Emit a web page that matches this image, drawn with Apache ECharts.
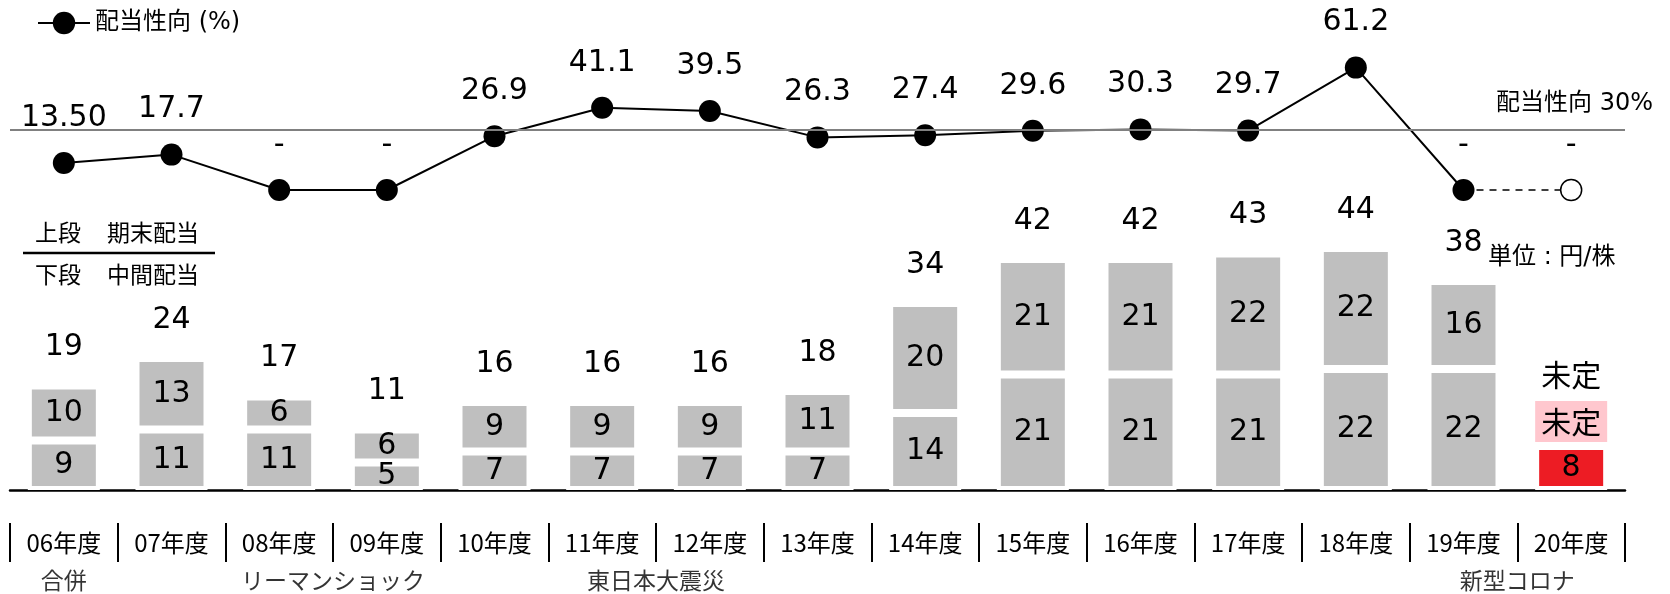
<!DOCTYPE html>
<html>
<head>
<meta charset="utf-8">
<script src="https://cdn.jsdelivr.net/npm/echarts@6/dist/echarts.min.js"></script>
<style>
html,body{margin:0;padding:0;background:#fff;}
#chart{width:1670px;height:594px;}
</style>
</head>
<body>
<div id="chart"></div>
<script>
// ---- data ----
const years = ['06年度','07年度','08年度','09年度','10年度','11年度','12年度','13年度','14年度','15年度','16年度','17年度','18年度','19年度','20年度'];
const interimDiv = [9, 11, 11, 5, 7, 7, 7, 7, 14, 21, 21, 21, 22, 22, 8];
const yearEndDiv = [10, 13, 6, 6, 9, 9, 9, 11, 20, 21, 21, 22, 22, 16, null];
const totalLabels = ['19','24','17','11','16','16','16','18','34','42','42','43','44','38','未定'];
const payoutRatio = [13.5, 17.7, 0, 0, 26.9, 41.1, 39.5, 26.3, 27.4, 29.6, 30.3, 29.7, 61.2, 0, 0];
const payoutLabels = ['13.50','17.7','-','-','26.9','41.1','39.5','26.3','27.4','29.6','30.3','29.7','61.2','-','-'];
const payoutTarget = 30;
const pendingText = '未定';
const eventPos = [0, 2.5, 5.5, 13.5];
const eventText = ['合併', 'リーマンショック', '東日本大震災', '新型コロナ'];

// ---- style ----
const NUM = "'DejaVu Sans','Noto Sans CJK JP',sans-serif";
const JP = "'Noto Sans CJK JP','DejaVu Sans',sans-serif";
const GRAY = '#BFBFBF', RED = '#ED1C24', PINK = '#FFC7CE';
const last = years.length - 1;

const chart = echarts.init(document.getElementById('chart'));

const interimData = interimDiv.map((v, i) => i === last
  ? { value: v, itemStyle: { color: RED } } : v);
const yearEndData = yearEndDiv.map(v => v === null
  ? { value: 0, itemStyle: { color: 'transparent', borderWidth: 0 },
      label: { show: true, position: 'top', distance: 4, formatter: pendingText,
               backgroundColor: PINK, padding: [5, 6, 5, 6], fontFamily: JP, fontSize: 30, lineHeight: 31 } }
  : v);
const totalData = totalLabels.map((t, i) => ({
  value: 0,
  label: i === last ? { distance: 56, fontFamily: JP } : {}
}));

const solidData = payoutRatio.map((v, i) => i <= last - 1 ? v : null);
const dashData = payoutRatio.map((v, i) => {
  if (i < last - 1) return null;
  if (i === last - 1) return { value: v, symbol: 'none', label: { show: false } };
  return { value: v, itemStyle: { color: '#fff', borderColor: '#000', borderWidth: 1.5 } };
});

const option = {
  animation: false,
  backgroundColor: '#fff',
  textStyle: { fontFamily: NUM, color: '#000' },
  legend: {
    data: ['配当性向 (%)'], left: 32, top: 6, itemWidth: 52, itemHeight: 28, itemGap: 6,
    textStyle: { fontSize: 24, fontFamily: NUM, color: '#000' }
  },
  grid: [
    { left: 10, right: 45, top: 50, height: 160 },
    { left: 10, right: 45, top: 160, bottom: 104 },
    { left: 10, right: 45, top: 570, height: 20 }
  ],
  xAxis: [
    { type: 'category', gridIndex: 0, data: years, show: false },
    { type: 'category', gridIndex: 1, data: years,
      axisLine: { show: true, lineStyle: { color: '#000', width: 2.5 } },
      axisTick: { show: false }, axisLabel: { show: false } },
    { type: 'category', gridIndex: 1, data: years, position: 'bottom', offset: 33,
      axisLine: { show: false },
      axisTick: { show: true, length: 39, interval: 0, lineStyle: { color: '#000', width: 2 } },
      axisLabel: { show: true, interval: 0, margin: 8, fontSize: 24, fontFamily: JP, color: '#000' } },
    { type: 'value', gridIndex: 2, min: -0.5, max: 14.5, show: false }
  ],
  yAxis: [
    { type: 'value', gridIndex: 0, min: -10, max: 70, show: false },
    { type: 'value', gridIndex: 1, min: 0, max: 60, show: false },
    { type: 'value', gridIndex: 2, min: 0, max: 1, show: false }
  ],
  series: [
    { name: '中間配当', type: 'bar', xAxisIndex: 1, yAxisIndex: 1, stack: 'div', barWidth: 72,
      data: interimData,
      itemStyle: { color: GRAY, borderColor: '#fff', borderWidth: 4 },
      label: { show: true, position: 'inside', fontSize: 30, color: '#000', fontFamily: NUM } },
    { name: '期末配当', type: 'bar', xAxisIndex: 1, yAxisIndex: 1, stack: 'div', barWidth: 72,
      data: yearEndData,
      itemStyle: { color: GRAY, borderColor: '#fff', borderWidth: 4 },
      label: { show: true, position: 'inside', fontSize: 30, color: '#000', fontFamily: NUM } },
    { name: '合計', type: 'bar', xAxisIndex: 1, yAxisIndex: 1, stack: 'div', barWidth: 72,
      data: totalData,
      itemStyle: { color: 'transparent', borderWidth: 0 },
      label: { show: true, position: 'top', distance: 23, fontSize: 30, color: '#000', fontFamily: NUM,
               formatter: p => totalLabels[p.dataIndex] } },
    { name: '配当性向 (%)', type: 'line', xAxisIndex: 0, yAxisIndex: 0, data: solidData,
      symbol: 'circle', symbolSize: 22, clip: false,
      lineStyle: { color: '#000', width: 2 }, itemStyle: { color: '#000' },
      label: { show: true, position: 'top', distance: 19, fontSize: 30, color: '#000', fontFamily: NUM,
               formatter: p => payoutLabels[p.dataIndex] },
      markLine: { silent: true, symbol: 'none',
        lineStyle: { color: '#808080', width: 2, type: 'solid' },
        label: { show: true, position: 'insideEndTop', distance: 14, offset: [42, 0], fontSize: 24, color: '#000', fontFamily: NUM,
                 formatter: '配当性向 ' + payoutTarget + '%' },
        data: [{ yAxis: payoutTarget }] } },
    { name: '配当性向予定', type: 'line', xAxisIndex: 0, yAxisIndex: 0, data: dashData,
      symbol: 'circle', symbolSize: 21, clip: false,
      lineStyle: { color: '#000', width: 1.5, type: [7, 6] }, itemStyle: { color: '#000' },
      label: { show: true, position: 'top', distance: 19, fontSize: 30, color: '#000', fontFamily: NUM,
               formatter: p => payoutLabels[p.dataIndex] } },
    { name: '出来事', type: 'scatter', xAxisIndex: 3, yAxisIndex: 2,
      data: eventPos.map(x => [x, 0.5]), symbolSize: 1, itemStyle: { color: 'transparent' },
      label: { show: true, position: 'inside', fontSize: 23, color: '#000', fontFamily: JP,
               formatter: p => eventText[p.dataIndex] } }
  ],
  graphic: [
    { type: 'text', x: 35, y: 232, style: { text: '上段', font: "23px 'Noto Sans CJK JP'", fill: '#000', verticalAlign: 'middle' } },
    { type: 'text', x: 107, y: 232, style: { text: '期末配当', font: "23px 'Noto Sans CJK JP'", fill: '#000', verticalAlign: 'middle' } },
    { type: 'line', shape: { x1: 23, y1: 253, x2: 215, y2: 253 }, style: { stroke: '#000', lineWidth: 2.5 } },
    { type: 'text', x: 35, y: 274, style: { text: '下段', font: "23px 'Noto Sans CJK JP'", fill: '#000', verticalAlign: 'middle' } },
    { type: 'text', x: 107, y: 274, style: { text: '中間配当', font: "23px 'Noto Sans CJK JP'", fill: '#000', verticalAlign: 'middle' } },
    { type: 'text', x: 1488, y: 258, style: { text: '単位 : 円/株', font: "24px 'DejaVu Sans','Noto Sans CJK JP'", fill: '#000', verticalAlign: 'middle' } }
  ]
};
chart.setOption(option);
</script>
</body>
</html>
